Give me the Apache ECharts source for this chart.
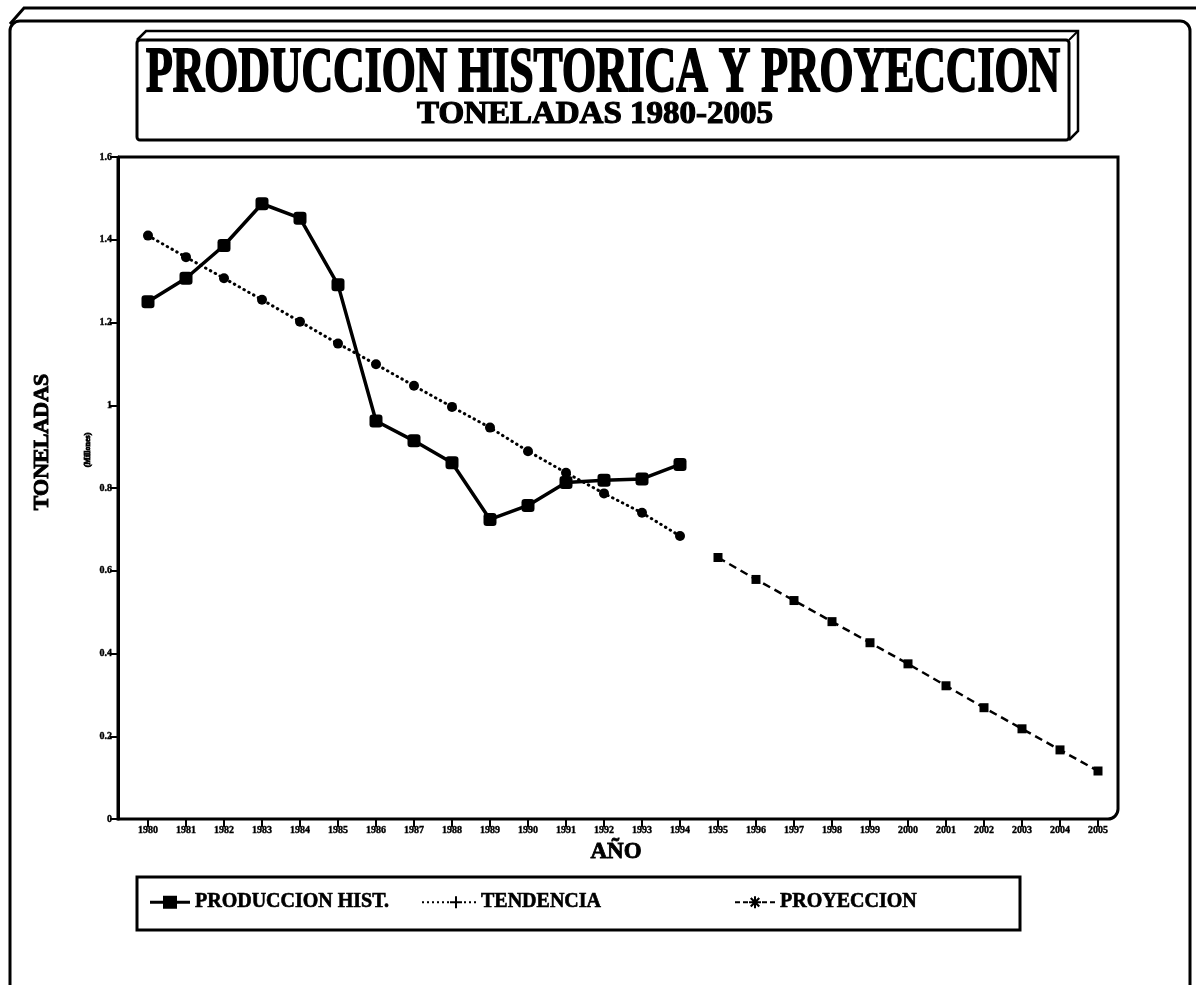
<!DOCTYPE html>
<html>
<head>
<meta charset="utf-8">
<script src="https://cdn.jsdelivr.net/npm/echarts/dist/echarts.min.js"></script>
<style>
	body{margin:0;background:#fff;}
	#main{width:1196px;height:985px;}
</style>
</head>
<body>
<div id="main"></div>
<script>
	// datos (millones de toneladas)
	var years = ['1980','1981','1982','1983','1984','1985','1986','1987','1988','1989','1990','1991','1992',
		'1993','1994','1995','1996','1997','1998','1999','2000','2001','2002','2003','2004','2005'];
	var prodHist = [1.250,1.307,1.386,1.487,1.452,1.291,0.962,0.914,0.861,0.724,0.758,0.813,0.819,0.822,0.857];
	var tendencia = [1.410,1.358,1.307,1.255,1.202,1.149,1.099,1.047,0.996,0.946,0.889,0.837,0.787,0.740,0.684];
	var proyeccion = [0.632,0.579,0.528,0.477,0.426,0.375,0.322,0.269,0.218,0.167,0.116];
	var yMin = 0, yMax = 1.6, yStep = 0.2;

	var titulo = 'PRODUCCION HISTORICA Y PROYECCION';
	var subtitulo = 'TONELADAS 1980-2005';

	// ancho del texto para comprimir el titulo como el original
	function ancho(txt, font){
		var c = document.createElement('canvas').getContext('2d');
		c.font = font;
		return c.measureText(txt).width;
	}
	var fTit = 'bold 64px "Liberation Serif"';
	var fSub = 'bold 32px "Liberation Serif"';
	var escTit = 914 / ancho(titulo, fTit);
	var escSub = 356 / ancho(subtitulo, fSub);

	// proyeccion empieza despues del historico
	var proySerie = [];
	for (var i = 0; i < prodHist.length; i++) proySerie.push(null);
	proySerie = proySerie.concat(proyeccion);

	var iconProd = 'path://M0,6L40,6L40,9L0,9Z M13,1L27,1L27,14L13,14Z';
	var iconTend = 'path://M0,6h2v2h-2Z M5,6h2v2h-2Z M10,6h2v2h-2Z M15,6h2v2h-2Z M20,6h2v2h-2Z M25,6h2v2h-2Z' +
		' M42,6h2v2h-2Z M47,6h2v2h-2Z M52,6h2v2h-2Z' +
		' M33,1L35,1L35,13L33,13Z M28,6L40,6L40,8L28,8Z M0,1L0.1,1L0.1,1.1Z M54,13L53.9,13L53.9,12.9Z';
	var iconProy = 'path://M0,6h5v2h-5Z M8,6h5v2h-5Z M27,6h5v2h-5Z M35,6h5v2h-5Z' +
		' M19,1L21,1L21,13L19,13Z M14,6L26,6L26,8L14,8Z M15,3.5L16.5,2L25,10.5L23.5,12Z M23.5,2L25,3.5L16.5,12L15,10.5Z' +
		' M0,1L0.1,1L0.1,1.1Z M40,13L39.9,13L39.9,12.9Z';

	var legTxt = {fontFamily:'Liberation Serif', fontWeight:'bold', fontSize:20, color:'#000',
		textBorderColor:'#000', textBorderWidth:0.6};

	var myChart = echarts.init(document.getElementById('main'));
	var option = {
		backgroundColor: '#fff',
		animation: false,
		grid: {left:148, right:98, top:157, bottom:166},
		xAxis: {
			type: 'category',
			data: years,
			boundaryGap: false,
			name: 'AÑO',
			nameLocation: 'middle',
			nameGap: 20,
			nameTextStyle: {fontFamily:'Liberation Serif', fontWeight:'bold', fontSize:23, color:'#000',
				textBorderColor:'#000', textBorderWidth:0.8, padding:[0,14,0,0]},
			axisLine: {show:false},
			axisTick: {show:true, length:8, lineStyle:{color:'#000', width:2}},
			axisLabel: {interval:0, margin:6, fontFamily:'Liberation Serif', fontWeight:'bold', fontSize:10, color:'#000',
				textBorderColor:'#000', textBorderWidth:0.4},
			splitLine: {show:false}
		},
		yAxis: {
			type: 'value',
			min: yMin,
			max: yMax,
			interval: yStep,
			offset: 30,
			axisLine: {show:true, lineStyle:{color:'#000', width:3}},
			axisTick: {show:true, length:8, lineStyle:{color:'#000', width:2}},
			axisLabel: {margin:6, fontFamily:'Liberation Serif', fontWeight:'bold', fontSize:10, color:'#000',
				textBorderColor:'#000', textBorderWidth:0.4},
			splitLine: {show:false}
		},
		legend: [
			{data:[{name:'PRODUCCION HIST.', icon:iconProd}], left:150, top:892, padding:0, itemWidth:40, itemHeight:14,
				itemGap:0, selectedMode:false, itemStyle:{color:'#000', borderWidth:0}, textStyle:legTxt},
			{data:[{name:'TENDENCIA', icon:iconTend}], left:422, top:892, padding:0, itemWidth:54, itemHeight:14,
				itemGap:0, selectedMode:false, itemStyle:{color:'#000', borderWidth:0}, textStyle:legTxt},
			{data:[{name:'PROYECCION', icon:iconProy}], left:735, top:892, padding:0, itemWidth:40, itemHeight:14,
				itemGap:0, selectedMode:false, itemStyle:{color:'#000', borderWidth:0}, textStyle:legTxt}
		],
		graphic: [
			// marco exterior
			{type:'rect', z:1, silent:true, shape:{x:10, y:21, width:1180, height:1000, r:10},
				style:{fill:'none', stroke:'#000', lineWidth:3}},
			{type:'polyline', z:1, silent:true, shape:{points:[[10,24],[24,8],[1196,8]]},
				style:{fill:'none', stroke:'#000', lineWidth:3}},
			// caja del titulo con relieve
			{type:'polyline', z:1, silent:true, shape:{points:[[137,40],[146,31],[1078,31],[1078,131],[1069,140]]},
				style:{fill:'none', stroke:'#000', lineWidth:2.5}},
			{type:'line', z:1, silent:true, shape:{x1:1069, y1:40, x2:1078, y2:31},
				style:{stroke:'#000', lineWidth:2}},
			{type:'rect', z:1, silent:true, shape:{x:137, y:40, width:932, height:100, r:3},
				style:{fill:'#fff', stroke:'#000', lineWidth:3}},
			{type:'text', z:2, silent:true, x:603, y:74, scaleX:escTit,
				style:{text:titulo, fontFamily:'Liberation Serif', fontWeight:'bold', fontSize:64,
					fill:'#000', stroke:'#000', lineWidth:2, align:'center', verticalAlign:'middle'}},
			{type:'text', z:2, silent:true, x:595, y:115, scaleX:escSub,
				style:{text:subtitulo, fontFamily:'Liberation Serif', fontWeight:'bold', fontSize:32,
					fill:'#000', stroke:'#000', lineWidth:1.2, align:'center', verticalAlign:'middle'}},
			// marco del area de trazado
			{type:'rect', z:1, silent:true, shape:{x:118, y:157, width:1000, height:662, r:[0,0,10,0]},
				style:{fill:'none', stroke:'#000', lineWidth:3}},
			// titulo del eje y
			{type:'text', z:2, silent:true, x:42, y:442, rotation:Math.PI/2,
				style:{text:'TONELADAS', fontFamily:'Liberation Serif', fontWeight:'bold', fontSize:22,
					fill:'#000', stroke:'#000', lineWidth:1, align:'center', verticalAlign:'middle'}},
			{type:'text', z:2, silent:true, x:88, y:450, rotation:Math.PI/2,
				style:{text:'(Millones)', fontFamily:'Liberation Serif', fontWeight:'bold', fontSize:8,
					fill:'#000', stroke:'#000', lineWidth:0.8, align:'center', verticalAlign:'middle'}},
			// caja de la leyenda
			{type:'rect', z:1, silent:true, shape:{x:137, y:877, width:883, height:53},
				style:{fill:'none', stroke:'#000', lineWidth:3}}
		],
		series: [{
			name: 'PRODUCCION HIST.',
			type: 'line',
			data: prodHist,
			symbol: 'roundRect',
			symbolSize: 13,
			itemStyle: {color:'#000'},
			lineStyle: {color:'#000', width:3.5}
		},{
			name: 'TENDENCIA',
			type: 'line',
			data: tendencia,
			symbol: 'circle',
			symbolSize: 10,
			itemStyle: {color:'#000'},
			lineStyle: {color:'#000', width:3, type:[0.5,5], cap:'round'}
		},{
			name: 'PROYECCION',
			type: 'line',
			data: proySerie,
			symbol: 'rect',
			symbolSize: 9,
			itemStyle: {color:'#000'},
			lineStyle: {color:'#000', width:2.5, type:[8,5]}
		}]
	};
	myChart.setOption(option);
</script>
</body>
</html>
